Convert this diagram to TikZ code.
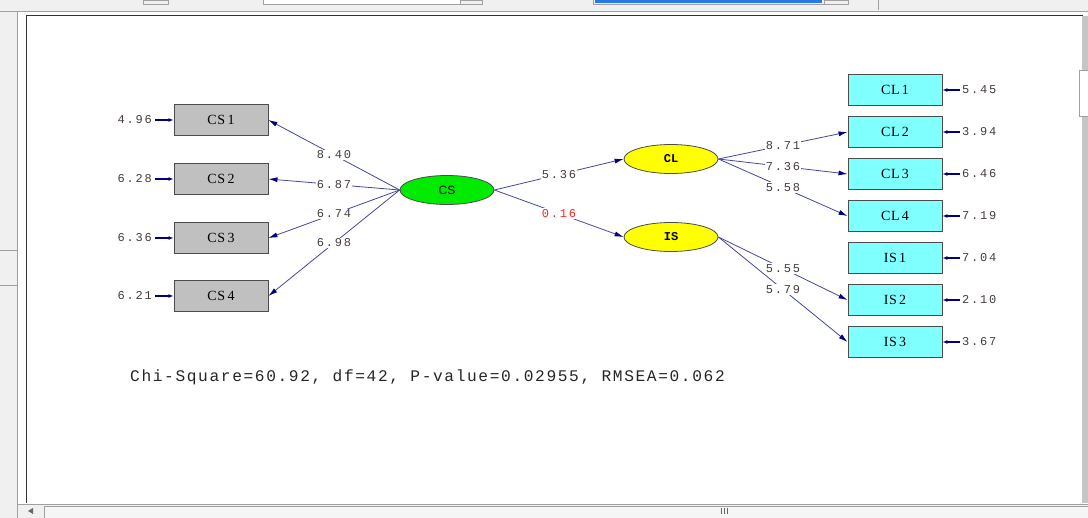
\documentclass[tikz,border=0pt]{standalone}
\usepackage{fontspec}
\usetikzlibrary{shapes.geometric,arrows.meta}
\setmainfont{Liberation Serif}
\newfontfamily\lblfont[LetterSpace=15]{Liberation Mono}
\newfontfamily\fitfont[LetterSpace=10]{Liberation Mono}
\newfontfamily\obsfont[LetterSpace=5]{Liberation Serif}
\newfontfamily\latsans{Liberation Sans}
\newfontfamily\latmono{Liberation Mono}
\definecolor{pathblue}{RGB}{70,70,160}
\definecolor{tipblue}{RGB}{0,0,128}
\definecolor{boxgray}{RGB}{192,192,192}
\definecolor{boxcyan}{RGB}{128,255,255}
\definecolor{latgreen}{RGB}{0,235,0}
\definecolor{latyellow}{RGB}{255,255,0}
\definecolor{lbltext}{RGB}{70,60,60}
\definecolor{chrome}{RGB}{240,240,240}
\definecolor{chromeline}{RGB}{160,160,160}
\definecolor{selblue}{RGB}{40,120,230}
\begin{document}
\begin{tikzpicture}[x=1pt,y=-1pt,
  obs/.style={draw=black!70,line width=0.9pt,minimum width=94pt,minimum height=31pt,inner sep=0pt,font=\obsfont\fontsize{14}{14}\selectfont},
  obsL/.style={obs,fill=boxgray},
  obsR/.style={obs,fill=boxcyan},
  lat/.style={ellipse,draw=black!70,line width=0.8pt,minimum width=94pt,minimum height=29pt,inner sep=0pt},
  path/.style={draw=pathblue,line width=0.8pt,-{Latex[length=9pt,width=5pt,color=tipblue]}},
  err/.style={draw=tipblue,line width=1.2pt,-{Latex[length=5pt,width=4pt]}},
  coef/.style={fill=white,inner sep=1pt,text=lbltext,font=\lblfont\fontsize{12}{12}\selectfont},
  errlbl/.style={inner sep=0pt,text=lbltext,font=\lblfont\fontsize{12}{12}\selectfont}
]
\useasboundingbox (0,0) rectangle (1088,518);
% window chrome
\fill[white] (0,0) rectangle (1088,518);
\fill[chrome] (0,0) rectangle (1088,12);
\draw[chromeline] (0,11.5) -- (1088,11.5);
\fill[chrome] (0,12) rectangle (18,518);
\draw[chromeline,line width=1pt] (17.5,12) -- (17.5,518);
\draw[chromeline] (0,250) -- (17,250) (0,285) -- (17,285);
\draw[chromeline] (143,0) rectangle (168,4);
\draw[chromeline,fill=white] (263,-1) rectangle (460,4);
\draw[chromeline] (460,0) rectangle (482,4);
\fill[selblue] (595,-1) rectangle (822,3);
\draw[chromeline] (593,-1) rectangle (824,4);
\draw[chromeline] (824,0) rectangle (848,4);
\draw[chromeline] (878,0) -- (878,10);
% canvas frame
\draw[black!80,line width=1pt] (26,503) -- (26,16) -- (1082,16) -- (1082,24);
\fill[chromeline!60] (1082,16) rectangle (1088,503);
\draw[chromeline,fill=white] (1079,70) rectangle (1090,116);
% bottom scrollbar
\fill[chrome] (18,504) rectangle (1088,518);
\draw[chromeline] (18,504) -- (1088,504);
\draw[chromeline,fill=black!4] (44,506) rectangle (1090,518);
\fill[black!60] (28,511) -- (33,508) -- (33,514) -- cycle;
\draw[black!60] (721,508) -- (721,514) (724,508) -- (724,514) (727,508) -- (727,514);

% observed indicators
\node[obsL] (cs1) at (221,120) {CS\,1};
\node[obsL] (cs2) at (221,179) {CS\,2};
\node[obsL] (cs3) at (221,238) {CS\,3};
\node[obsL] (cs4) at (221,296) {CS\,4};
\node[obsR] (cl1) at (895,90) {CL\,1};
\node[obsR] (cl2) at (895,132) {CL\,2};
\node[obsR] (cl3) at (895,174) {CL\,3};
\node[obsR] (cl4) at (895,216) {CL\,4};
\node[obsR] (is1) at (895,258) {IS\,1};
\node[obsR] (is2) at (895,300) {IS\,2};
\node[obsR] (is3) at (895,342) {IS\,3};

% latent variables
\node[lat,fill=latgreen,font=\latsans\fontsize{12}{12}\selectfont] (cs) at (447,190) {CS};
\node[lat,fill=latyellow,font=\latmono\bfseries\fontsize{12}{12}\selectfont] (cl) at (671,159) {CL};
\node[lat,fill=latyellow,font=\latmono\bfseries\fontsize{12}{12}\selectfont] (is) at (671,237) {IS};

% error terms
\foreach \n/\v/\y in {e1/4.96/120,e2/6.28/179,e3/6.36/238,e4/6.21/296}
  \node[errlbl,anchor=east] (\n) at (152,\y) {\v};
\foreach \n/\b in {e1/cs1,e2/cs2,e3/cs3,e4/cs4}
  \draw[err] (\n.east) ++(3,0) -- (\b.west);
\foreach \n/\v/\y in {f1/5.45/90,f2/3.94/132,f3/6.46/174,f4/7.19/216,f5/7.04/258,f6/2.10/300,f7/3.67/342}
  \node[errlbl,anchor=west] (\n) at (962,\y) {\v};
\foreach \n/\b in {f1/cl1,f2/cl2,f3/cl3,f4/cl4,f5/is1,f6/is2,f7/is3}
  \draw[err] (\n.west) ++(-2,0) -- (\b.east);

% loadings and structural paths
\draw[path] (cs.west) -- node[coef] {8.40} (cs1.east);
\draw[path] (cs.west) -- node[coef] {6.87} (cs2.east);
\draw[path] (cs.west) -- node[coef] {6.74} (cs3.east);
\draw[path] (cs.west) -- node[coef] {6.98} (cs4.east);
\draw[path] (cs.east) -- node[coef] {5.36} (cl.west);
\draw[path] (cs.east) -- node[coef,text=red!85] {0.16} (is.west);
\draw[path] (cl.east) -- node[coef] {8.71} (cl2.west);
\draw[path] (cl.east) -- node[coef] {7.36} (cl3.west);
\draw[path] (cl.east) -- node[coef] {5.58} (cl4.west);
\draw[path] (is.east) -- node[coef] {5.55} (is2.west);
\draw[path] (is.east) -- node[coef] {5.79} (is3.west);

% fit statistics
\node[anchor=west,inner sep=0pt,text=black!85,font=\fitfont\fontsize{16.2}{16.2}\selectfont] (fit) at (130,377) {Chi-Square=60.92, df=42, P-value=0.02955, RMSEA=0.062};
\end{tikzpicture}
\end{document}
